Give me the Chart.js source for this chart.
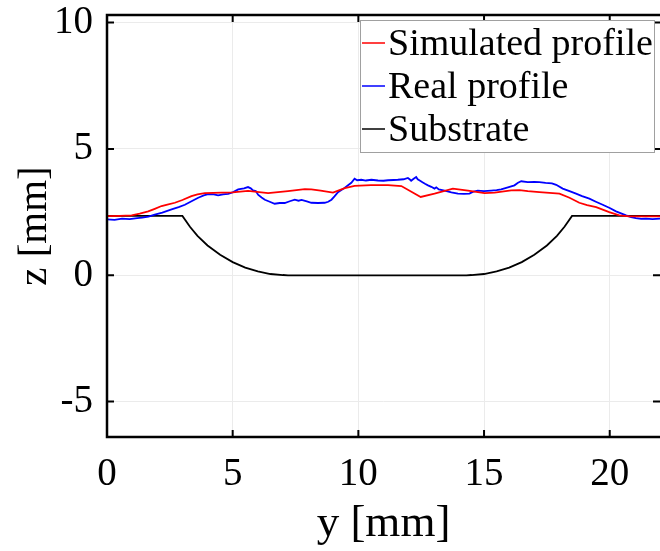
<!DOCTYPE html>
<html>
<head>
<meta charset="utf-8">
<script src="https://cdn.jsdelivr.net/npm/chart.js@4"></script>
<style>
  html, body { margin: 0; padding: 0; background: #fff; }
  #wrap { width: 660px; height: 551px; }
</style>
</head>
<body>
<div id="wrap"><canvas id="profileChart"></canvas></div>
<script>
// data (y and z in mm)
const simY  = [0, 0.5, 0.98, 1.3, 1.64, 1.9, 2.17, 2.4, 2.7, 3.0, 3.36, 3.6, 3.89, 4.56, 5.0, 5.61, 6.41, 7.2, 7.87, 8.13, 8.5, 8.99, 9.46, 9.85, 10.5, 11.18, 11.71, 12.48, 13.03, 13.76, 14.36, 15.02, 15.42, 16.08, 16.41, 16.74, 17.2, 18.0, 18.4, 18.79, 19.1, 19.46, 19.98, 20.38, 20.78, 22];
const simZ  = [2.34, 2.35, 2.37, 2.44, 2.53, 2.63, 2.74, 2.8, 2.87, 2.98, 3.13, 3.2, 3.25, 3.27, 3.28, 3.34, 3.25, 3.33, 3.41, 3.4, 3.35, 3.27, 3.45, 3.54, 3.57, 3.57, 3.53, 3.1, 3.23, 3.43, 3.35, 3.25, 3.27, 3.36, 3.37, 3.33, 3.29, 3.23, 3.07, 2.87, 2.78, 2.7, 2.5, 2.37, 2.33, 2.33];

const realY = [0, 0.3, 0.6, 0.9, 1.2, 1.4, 1.65, 1.9, 2.2, 2.57, 2.85, 3.1, 3.4, 3.63, 3.85, 4.03, 4.25, 4.42, 4.62, 4.82, 5.02, 5.22, 5.45, 5.61, 5.72, 5.81, 5.92, 6.01, 6.15, 6.28, 6.45, 6.67, 6.87, 7.07, 7.27, 7.47, 7.62, 7.74, 7.95, 8.13, 8.4, 8.66, 8.8, 8.93, 9.05, 9.19, 9.4, 9.59, 9.72, 9.85, 9.95, 10.12, 10.3, 10.52, 10.78, 11.0, 11.18, 11.4, 11.57, 11.8, 11.97, 12.05, 12.1, 12.2, 12.3, 12.36, 12.44, 12.55, 12.65, 12.77, 12.9, 13.03, 13.1, 13.2, 13.43, 13.7, 13.96, 14.2, 14.42, 14.55, 14.75, 15.0, 15.28, 15.5, 15.68, 15.95, 16.21, 16.35, 16.48, 16.74, 17.0, 17.2, 17.45, 17.7, 17.87, 18.13, 18.4, 18.66, 18.9, 19.19, 19.45, 19.72, 20.0, 20.25, 20.45, 20.65, 20.85, 21.04, 21.25, 21.44, 21.7, 22];
const realZ = [2.21, 2.19, 2.24, 2.22, 2.26, 2.28, 2.32, 2.4, 2.48, 2.61, 2.7, 2.79, 2.95, 3.07, 3.16, 3.21, 3.2, 3.16, 3.2, 3.22, 3.29, 3.4, 3.44, 3.49, 3.44, 3.36, 3.33, 3.19, 3.08, 2.99, 2.92, 2.83, 2.86, 2.86, 2.93, 2.99, 2.95, 2.98, 2.92, 2.87, 2.86, 2.87, 2.91, 2.99, 3.12, 3.29, 3.42, 3.56, 3.66, 3.82, 3.76, 3.78, 3.75, 3.78, 3.75, 3.74, 3.76, 3.77, 3.78, 3.8, 3.85, 3.79, 3.74, 3.82, 3.89, 3.8, 3.75, 3.68, 3.62, 3.56, 3.5, 3.43, 3.48, 3.4, 3.35, 3.28, 3.23, 3.22, 3.23, 3.3, 3.35, 3.33, 3.35, 3.37, 3.4, 3.48, 3.56, 3.66, 3.72, 3.69, 3.7, 3.69, 3.66, 3.64, 3.58, 3.43, 3.33, 3.23, 3.13, 3.03, 2.91, 2.79, 2.66, 2.53, 2.45, 2.37, 2.3, 2.26, 2.23, 2.24, 2.22, 2.24];

const subY  = [0, 3.0, 3.3, 3.6, 4.0, 4.5, 5.0, 5.5, 6.0, 6.5, 7.0, 7.2, 14.3, 14.5, 15.0, 15.5, 16.0, 16.5, 17.0, 17.5, 17.9, 18.2, 18.5, 22];
const subZ  = [2.35, 2.35, 1.92, 1.56, 1.18, 0.81, 0.52, 0.3, 0.15, 0.05, 0.01, 0, 0, 0.01, 0.05, 0.15, 0.3, 0.52, 0.81, 1.18, 1.56, 1.92, 2.35, 2.35];

const seriesNames = ['Simulated profile', 'Real profile', 'Substrate'];
const seriesColors = ['#ff0000', '#0000ff', '#000000'];
const xTicks = [0, 5, 10, 15, 20];
const yTicks = [-5, 0, 5, 10];

function pts(xs, ys) {
  return xs.map((x, i) => ({ x: x, y: ys[i] }));
}

const serif = "'Liberation Serif', 'DejaVu Serif', serif";

// frame + inward ticks + legend box, drawn on top
const framePlugin = {
  id: 'frame',
  afterDraw(chart) {
    const ctx = chart.ctx;
    const a = chart.chartArea;
    const xs = chart.scales.x, ys = chart.scales.y;
    ctx.save();
    ctx.strokeStyle = '#000';
    ctx.lineWidth = 2.5;
    // right edge of the box falls just outside the picture
    ctx.beginPath();
    ctx.moveTo(a.right + 2, a.top); ctx.lineTo(a.left, a.top);
    ctx.lineTo(a.left, a.bottom); ctx.lineTo(a.right + 2, a.bottom);
    ctx.stroke();
    ctx.lineWidth = 2;
    const tl = 7;
    xTicks.forEach(v => {
      const px = xs.getPixelForValue(v);
      ctx.beginPath();
      ctx.moveTo(px, a.bottom); ctx.lineTo(px, a.bottom - tl);
      ctx.moveTo(px, a.top); ctx.lineTo(px, a.top + tl);
      ctx.stroke();
    });
    yTicks.forEach(v => {
      const py = ys.getPixelForValue(v);
      ctx.beginPath();
      ctx.moveTo(a.left, py); ctx.lineTo(a.left + tl, py);
      ctx.moveTo(a.right, py); ctx.lineTo(a.right - tl, py);
      ctx.stroke();
    });

    // legend
    const lx = 360, ly = 20, lw = 294, lh = 132;
    ctx.fillStyle = '#fff';
    ctx.fillRect(lx, ly, lw, lh);
    ctx.strokeStyle = '#a0a0a0';
    ctx.lineWidth = 1;
    ctx.strokeRect(lx + 0.5, ly + 0.5, lw, lh);
    ctx.font = '38px ' + serif;
    ctx.textBaseline = 'middle';
    ctx.textAlign = 'left';
    chart.data.datasets.forEach((ds, i) => {
      const ry = 43 + i * 43;
      ctx.strokeStyle = ds.borderColor;
      ctx.lineWidth = 1.5;
      ctx.beginPath();
      ctx.moveTo(lx + 2, ry); ctx.lineTo(lx + 25, ry);
      ctx.stroke();
      ctx.fillStyle = '#000';
      ctx.fillText(ds.label, lx + 28, ry + 2);
    });
    ctx.restore();
  }
};

const ctx = document.getElementById('profileChart').getContext('2d');
new Chart(ctx, {
  type: 'scatter',
  data: {
    datasets: [
      { label: seriesNames[0], data: pts(simY, simZ), borderColor: seriesColors[0] },
      { label: seriesNames[1], data: pts(realY, realZ), borderColor: seriesColors[1] },
      { label: seriesNames[2], data: pts(subY, subZ), borderColor: seriesColors[2] }
    ].map(d => Object.assign(d, {
      showLine: true, pointRadius: 0, borderWidth: 1.8, tension: 0, fill: false
    }))
  },
  options: {
    responsive: true,
    maintainAspectRatio: false,
    animation: false,
    layout: { padding: { top: 15, right: 0, left: 0, bottom: 0 } },
    plugins: { legend: { display: false }, tooltip: { enabled: false } },
    scales: {
      x: {
        type: 'linear', min: 0, max: 22,
        border: { display: false },
        grid: { color: '#ebebeb', drawTicks: false },
        ticks: { stepSize: 5, includeBounds: false, padding: 14, color: '#000', font: { family: serif, size: 39 } },
        title: { display: true, text: 'y [mm]', color: '#000', padding: 0, font: { family: serif, size: 45 } },
        afterFit(s) { s.height = 114; s.paddingLeft = 0; s.paddingRight = 0; }
      },
      y: {
        type: 'linear', min: -6.4, max: 10.3,
        border: { display: false },
        grid: { color: '#ebebeb', drawTicks: false },
        ticks: { stepSize: 5, includeBounds: false, padding: 14, color: '#000', font: { family: serif, size: 39 } },
        title: { display: true, text: 'z [mm]', color: '#000', padding: { top: 11, bottom: 0 }, font: { family: serif, size: 41 } },
        afterFit(s) { s.width = 107; s.paddingTop = 0; s.paddingBottom = 0; }
      }
    }
  },
  plugins: [framePlugin]
});
</script>
</body>
</html>
